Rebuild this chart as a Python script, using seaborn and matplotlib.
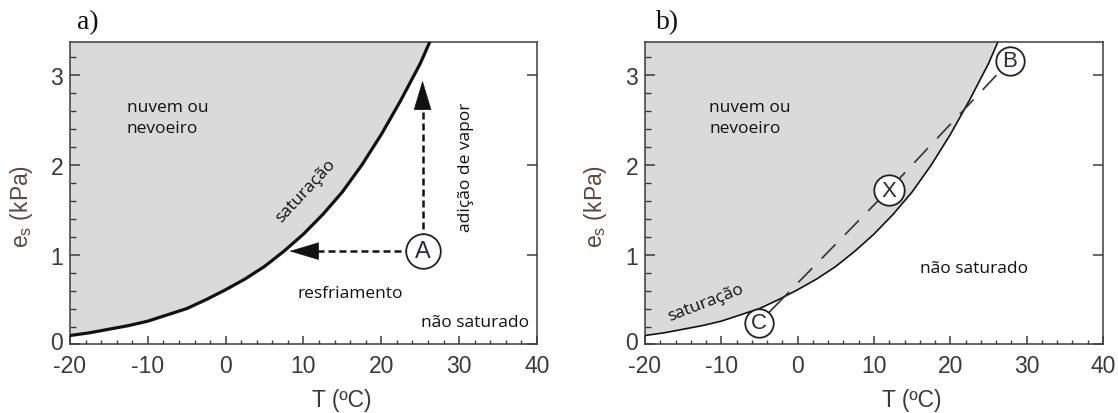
import numpy as np
import pandas as pd
import seaborn as sns
import matplotlib
matplotlib.use("Agg")
import matplotlib.pyplot as plt
from matplotlib.ticker import MultipleLocator, FixedLocator
from matplotlib.transforms import ScaledTranslation

# Saturation vapour pressure curve (T in degC, es in kPa)
temp_c = [-20, -17.5, -15, -12.5, -10, -7.5, -5, -2.5, 0, 2.5, 5, 7.5,
          10, 12.5, 15, 17.5, 20, 22.5, 25, 27.5]
es_kpa = [0.10, 0.13, 0.17, 0.21, 0.26, 0.33, 0.40, 0.50, 0.61, 0.73, 0.87, 1.04,
          1.23, 1.45, 1.70, 2.00, 2.34, 2.72, 3.13, 3.62]

# Panel a: air parcel A and the two paths to saturation
point_a = (25.3, 1.04)
cooling_end = (8.2, 1.04)
vapour_end = (25.3, 2.94)

# Panel b: mixing of parcels C and B gives X
mix_labels = ["C", "X", "B"]
mix_temp = [-5.1, 11.9, 27.8]
mix_es = [0.24, 1.72, 3.16]

x_ticks = [-20, -10, 0, 10, 20, 30, 40]
y_ticks = [0, 1, 2, 3]
x_lim = (-20, 40)
y_lim = (0, 3.37)

sns.set_theme(style="white")
plt.rcParams["font.family"] = ["Liberation Sans", "DejaVu Sans"]
plt.rcParams["mathtext.default"] = "regular"

TICK_COLOR = "#3a3a3a"
SPINE_COLOR = "#3c3c3c"
FILL_COLOR = "#dadada"
LABEL_FONT = "Open Sans"

fig = plt.figure(figsize=(11.18, 4.14), dpi=100)
ax_a = fig.add_axes([0.0626, 0.1655, 0.4177, 0.7306])
ax_b = fig.add_axes([0.5769, 0.1655, 0.4097, 0.7306])

curve = pd.DataFrame({"T": temp_c, "es": es_kpa})


def style_axes(ax):
    ax.set_xlim(*x_lim)
    ax.set_ylim(*y_lim)
    ax.xaxis.set_major_locator(FixedLocator(x_ticks))
    ax.xaxis.set_minor_locator(MultipleLocator(2))
    ax.yaxis.set_major_locator(FixedLocator(y_ticks))
    ax.yaxis.set_minor_locator(MultipleLocator(0.2))
    ax.set_xticklabels([str(v) for v in x_ticks])
    ax.set_yticklabels([str(v) for v in y_ticks])
    for s in ax.spines.values():
        s.set_color(SPINE_COLOR)
        s.set_linewidth(1.1)
        s.set_visible(True)
    ax.tick_params(axis="both", which="both", direction="in", colors=SPINE_COLOR,
                   labelcolor=TICK_COLOR, labelsize=16.5, top=False)
    ax.tick_params(axis="x", which="major", length=5.5, width=1.1, bottom=True, pad=7)
    ax.tick_params(axis="x", which="minor", length=3, width=1.0, bottom=True)
    ax.tick_params(axis="y", which="major", length=7, width=1.1, left=True, right=True, pad=5)
    ax.tick_params(axis="y", which="minor", length=4, width=1.0, left=True, right=False)
    # lift the corner "0" a little so it clears the "-20" below it
    zero = ax.get_yticklabels()[0]
    zero.set_transform(zero.get_transform() + ScaledTranslation(0, 3 / 72, fig.dpi_scale_trans))
    ax.set_xlabel("T (ºC)", fontsize=16.5, color=TICK_COLOR)
    ax.set_ylabel("e$_s$ (kPa)", fontsize=16.5, color="#5e4640")
    ax.xaxis.set_label_coords(0.583, -0.145)
    ax.grid(False)


def saturation(ax, lw):
    ax.fill_between(temp_c, es_kpa, 10, color=FILL_COLOR, lw=0, zorder=0)
    sns.lineplot(data=curve, x="T", y="es", ax=ax, color="#111111", lw=lw,
                 sort=False, estimator=None, zorder=3)


def circled(ax, x, y, letter, size, fs):
    ax.scatter([x], [y], s=size, facecolor="white", edgecolor="#222222",
               linewidth=1.3, zorder=6)
    ax.text(x, y, letter, ha="center", va="center", fontsize=fs,
            color="#2a2a3a", zorder=7)


# ---------- panel a ----------
saturation(ax_a, 2.3)
style_axes(ax_a)
ax_a.yaxis.set_label_coords(-0.075, 0.46)

dash_kw = dict(color="#111111", lw=1.8, ls=(0, (2.8, 1.6)), zorder=4)
head_x = cooling_end[0] + 2.5
ax_a.plot([point_a[0], head_x], [point_a[1], point_a[1]], **dash_kw)
head_y = vapour_end[1] - 0.33
ax_a.plot([point_a[0], point_a[0]], [point_a[1], head_y], **dash_kw)
arrow_kw = dict(arrowstyle="-|>,head_length=1.0,head_width=0.3", color="#111111",
                lw=0.5, mutation_scale=20, shrinkA=0, shrinkB=0)
ax_a.annotate("", xy=cooling_end, xytext=(head_x, point_a[1]),
              arrowprops=arrow_kw, zorder=5)
ax_a.annotate("", xy=vapour_end, xytext=(point_a[0], head_y),
              arrowprops=arrow_kw, zorder=5)
circled(ax_a, point_a[0], point_a[1], "A", 620, 17)

ax_a.text(-12.7, 2.74, "nuvem ou\nnevoeiro", fontsize=12.5, family=LABEL_FONT,
          color="#111111", va="top", ha="left", linespacing=1.45)
ax_a.text(10.3, 1.72, "saturação", fontsize=12.5, family=LABEL_FONT, color="#111111",
          rotation=47, ha="center", va="center", rotation_mode="anchor")
ax_a.text(30.9, 1.98, "adição de vapor", fontsize=12.5, family=LABEL_FONT,
          color="#111111", rotation=90, ha="center", va="center")
ax_a.text(16.0, 0.57, "resfriamento", fontsize=12.5, family=LABEL_FONT,
          color="#111111", ha="center", va="center")
ax_a.text(32.1, 0.25, "não saturado", fontsize=12.5, family=LABEL_FONT,
          color="#111111", ha="center", va="center")

# ---------- panel b ----------
saturation(ax_b, 1.2)
style_axes(ax_b)
ax_b.yaxis.set_label_coords(-0.078, 0.46)

mix = pd.DataFrame({"T": mix_temp, "es": mix_es})
sns.lineplot(data=mix, x="T", y="es", ax=ax_b, color="#333333", lw=1.2,
             sort=False, estimator=None, zorder=4)
ax_b.lines[-1].set_linestyle((-4, (22, 8, 12, 8, 12, 8, 12, 8, 12, 8, 12, 8, 12, 8,
                                   12, 8, 12, 8, 12, 8, 12, 8, 12, 8, 12, 8)))
for lab, t, e in zip(mix_labels, mix_temp, mix_es):
    circled(ax_b, t, e, lab, 420 if lab != "X" else 480, 16)

ax_b.text(-11.6, 2.74, "nuvem ou\nnevoeiro", fontsize=12.5, family=LABEL_FONT,
          color="#111111", va="top", ha="left", linespacing=1.45)
ax_b.text(-12.0, 0.47, "saturação", fontsize=12.5, family=LABEL_FONT, color="#111111",
          rotation=21, ha="center", va="center", rotation_mode="anchor")
ax_b.text(23.1, 0.85, "não saturado", fontsize=12.5, family=LABEL_FONT,
          color="#111111", ha="center", va="center")

fig.text(0.069, 0.93, "a)", fontsize=20, family="Liberation Serif", color="#111111",
         ha="left", va="baseline")
fig.text(0.587, 0.93, "b)", fontsize=20, family="Liberation Serif", color="#111111",
         ha="left", va="baseline")

fig.savefig("out.png", dpi=100)
